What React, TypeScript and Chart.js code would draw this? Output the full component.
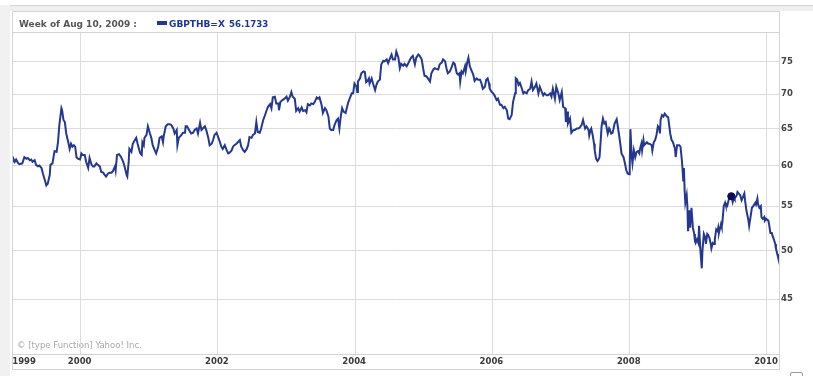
import { useEffect, useRef } from 'react';
import { Chart, registerables } from 'chart.js';

Chart.register(...registerables);

// Week dates (decimal years)
const weekDates: number[] = [
  1999.00, 1999.02, 1999.04, 1999.06, 1999.09, 1999.11, 1999.15, 1999.18, 1999.21, 1999.23,
  1999.26, 1999.28, 1999.30, 1999.33, 1999.35, 1999.38, 1999.40, 1999.43, 1999.45, 1999.48,
  1999.50, 1999.52, 1999.55, 1999.56, 1999.59, 1999.61, 1999.62, 1999.65, 1999.67, 1999.69,
  1999.72, 1999.73, 1999.75, 1999.77, 1999.79, 1999.82, 1999.84, 1999.86, 1999.88, 1999.90,
  1999.92, 1999.94, 1999.96, 1999.99, 2000.00, 2000.01, 2000.03, 2000.06, 2000.08, 2000.11,
  2000.13, 2000.16, 2000.18, 2000.20, 2000.23, 2000.25, 2000.28, 2000.30, 2000.33, 2000.35,
  2000.37, 2000.40, 2000.42, 2000.45, 2000.47, 2000.50, 2000.51, 2000.53, 2000.56, 2000.59,
  2000.62, 2000.64, 2000.67, 2000.68, 2000.70, 2000.71, 2000.74, 2000.76, 2000.79, 2000.81,
  2000.83, 2000.85, 2000.87, 2000.89, 2000.90, 2000.92, 2000.93, 2000.96, 2000.98, 2001.01,
  2001.03, 2001.05, 2001.08, 2001.10, 2001.13, 2001.15, 2001.18, 2001.20, 2001.21, 2001.24,
  2001.27, 2001.30, 2001.32, 2001.35, 2001.37, 2001.40, 2001.41, 2001.43, 2001.47, 2001.49,
  2001.52, 2001.53, 2001.55, 2001.58, 2001.61, 2001.64, 2001.66, 2001.69, 2001.71, 2001.74,
  2001.76, 2001.78, 2001.81,
  2001.83, 2001.86, 2001.88, 2001.91, 2001.93, 2001.95, 2001.98, 2002.00, 2002.03, 2002.05,
  2002.07, 2002.10, 2002.12, 2002.15, 2002.17, 2002.20, 2002.22, 2002.24, 2002.27, 2002.29,
  2002.32, 2002.34, 2002.37, 2002.39, 2002.42, 2002.44, 2002.46, 2002.49, 2002.51, 2002.54,
  2002.56, 2002.58, 2002.61, 2002.63, 2002.66, 2002.68, 2002.71, 2002.73, 2002.76, 2002.78,
  2002.80, 2002.83, 2002.85, 2002.88, 2002.89, 2002.91, 2002.94, 2002.97, 2003.00, 2003.02,
  2003.05, 2003.07, 2003.09, 2003.12, 2003.14, 2003.17, 2003.19, 2003.22, 2003.24, 2003.27,
  2003.29, 2003.31, 2003.34, 2003.36, 2003.39, 2003.41, 2003.44, 2003.46, 2003.48, 2003.51,
  2003.53, 2003.56, 2003.58, 2003.61, 2003.63, 2003.65, 2003.68, 2003.70, 2003.73, 2003.75,
  2003.77, 2003.79, 2003.81, 2003.83, 2003.86, 2003.87, 2003.90, 2003.92, 2003.95, 2003.97,
  2003.99, 2004.02, 2004.03, 2004.04, 2004.07, 2004.09, 2004.12, 2004.14, 2004.16, 2004.18,
  2004.20, 2004.21, 2004.24, 2004.26, 2004.29, 2004.31, 2004.33, 2004.36, 2004.38, 2004.41,
  2004.43, 2004.46, 2004.48, 2004.50, 2004.53, 2004.55, 2004.58,
  2004.60, 2004.63, 2004.65, 2004.67, 2004.70, 2004.72, 2004.75, 2004.77, 2004.80, 2004.82,
  2004.84, 2004.87, 2004.89, 2004.92, 2004.94, 2004.97, 2004.99, 2005.01, 2005.04, 2005.06,
  2005.09, 2005.11, 2005.14, 2005.16, 2005.18, 2005.21, 2005.23, 2005.26, 2005.28, 2005.31,
  2005.33, 2005.35, 2005.38, 2005.40, 2005.43, 2005.45, 2005.48, 2005.50, 2005.52, 2005.53,
  2005.55, 2005.57, 2005.60, 2005.61, 2005.63, 2005.65, 2005.67, 2005.70, 2005.72, 2005.74,
  2005.77, 2005.79, 2005.82, 2005.84, 2005.86, 2005.89, 2005.91, 2005.93, 2005.95, 2005.96,
  2005.99, 2006.01, 2006.03, 2006.06, 2006.08, 2006.11, 2006.13, 2006.16, 2006.18, 2006.21,
  2006.23, 2006.25, 2006.28, 2006.30, 2006.33, 2006.34, 2006.36, 2006.38, 2006.40, 2006.42,
  2006.45, 2006.47, 2006.50, 2006.52, 2006.55, 2006.57, 2006.59, 2006.62, 2006.64, 2006.67,
  2006.69, 2006.72, 2006.74, 2006.76, 2006.79, 2006.81, 2006.84, 2006.86, 2006.88, 2006.91,
  2006.93, 2006.96, 2006.98, 2007.01, 2007.03, 2007.06, 2007.07, 2007.09, 2007.10, 2007.13,
  2007.15, 2007.18, 2007.20, 2007.23, 2007.25, 2007.27, 2007.30, 2007.32, 2007.35, 2007.37,
  2007.40,
  2007.41, 2007.43, 2007.44, 2007.46, 2007.48, 2007.49, 2007.51, 2007.53, 2007.54, 2007.56,
  2007.58, 2007.59, 2007.61, 2007.63, 2007.65, 2007.66, 2007.68, 2007.70, 2007.71, 2007.73,
  2007.75, 2007.76, 2007.78, 2007.81, 2007.82, 2007.84, 2007.86, 2007.88, 2007.91, 2007.93,
  2007.95, 2007.97, 2007.99, 2008.00, 2008.01, 2008.03, 2008.04, 2008.06, 2008.08, 2008.10,
  2008.12, 2008.14, 2008.15, 2008.17, 2008.18, 2008.20, 2008.21, 2008.23, 2008.25, 2008.27,
  2008.29, 2008.32, 2008.33, 2008.35, 2008.37, 2008.39, 2008.41, 2008.43, 2008.44, 2008.45,
  2008.47, 2008.49, 2008.51, 2008.54, 2008.56, 2008.59, 2008.61, 2008.63, 2008.66, 2008.67,
  2008.69, 2008.72, 2008.74, 2008.76, 2008.77, 2008.78, 2008.79, 2008.80, 2008.81, 2008.83,
  2008.84, 2008.85, 2008.87, 2008.88, 2008.90, 2008.92, 2008.94, 2008.95, 2008.96, 2008.98,
  2009.00, 2009.01, 2009.03, 2009.05, 2009.06, 2009.08, 2009.10, 2009.11, 2009.13, 2009.14,
  2009.16, 2009.18, 2009.19, 2009.21, 2009.23, 2009.24, 2009.26, 2009.28, 2009.29, 2009.30,
  2009.33, 2009.34, 2009.35, 2009.37, 2009.39, 2009.40, 2009.42, 2009.44, 2009.45, 2009.47,
  2009.49, 2009.50, 2009.52, 2009.53, 2009.56, 2009.57, 2009.59, 2009.61, 2009.63, 2009.65,
  2009.67, 2009.68, 2009.70, 2009.73, 2009.74, 2009.76, 2009.78, 2009.80, 2009.83, 2009.84,
  2009.86, 2009.87, 2009.89, 2009.91, 2009.92, 2009.94, 2009.96, 2009.97, 2009.99, 2010.00,
  2010.02, 2010.03, 2010.05, 2010.07, 2010.08, 2010.10, 2010.12, 2010.13, 2010.15, 2010.16,
  2010.17,
];

// GBP/THB closing values
const gbpThb: number[] = [
  60.3, 60.9, 60.5, 60.8, 60.3, 60.2, 60.3, 61.1, 60.9, 61.0,
  60.7, 60.8, 60.5, 60.7, 60.1, 59.9, 60.0, 59.7, 59.0, 58.1,
  57.5, 57.7, 58.8, 60.1, 60.3, 61.4, 61.9, 61.8, 63.1, 65.5,
  67.9, 67.6, 66.2, 65.9, 64.3, 63.1, 62.2, 62.9, 62.5, 62.7,
  62.5, 61.1, 60.9, 60.8, 61.1, 61.6, 61.4, 61.4, 60.5, 59.7,
  61.0, 60.1, 59.9, 59.9, 60.3, 60.1, 59.9, 59.2, 59.1, 58.8,
  58.6, 59.0, 59.1, 59.1, 59.3, 59.9, 59.4, 61.4, 61.5, 61.1,
  60.5, 59.9, 58.8, 58.6, 60.5, 62.2, 61.8, 62.9, 63.4, 63.7,
  62.9, 62.2, 61.6, 61.4, 63.1, 62.7, 63.7, 64.1, 65.3, 64.3,
  63.7, 62.7, 62.0, 61.6, 62.5, 63.7, 63.9, 63.1, 63.9, 65.3,
  65.6, 65.6, 65.5, 65.0, 64.3, 64.8, 62.7, 63.7, 64.1, 64.4,
  64.4, 65.3, 65.3, 64.8, 64.3, 64.4, 64.8, 65.0, 64.3, 65.8,
  64.8, 65.0, 65.3,
  64.8, 63.7, 62.7, 62.9, 63.4, 64.1, 64.4, 63.9, 63.1, 62.5,
  62.2, 62.7, 62.2, 61.6, 61.7, 62.0, 62.5, 62.7, 62.9, 63.1,
  63.4, 62.5, 62.0, 61.8, 62.2, 62.7, 63.8, 63.7, 64.1, 64.3,
  65.9, 64.5, 64.4, 65.0, 66.2, 66.7, 67.6, 68.1, 68.5, 67.9,
  69.5, 69.6, 68.6, 68.6, 67.6, 68.8, 69.1, 69.3, 69.6, 69.0,
  69.6, 70.3, 69.6, 69.3, 67.5, 67.9, 67.4, 68.0, 67.5, 67.6,
  67.3, 68.5, 68.3, 68.6, 68.5, 68.8, 69.5, 69.3, 69.5, 68.4,
  67.2, 67.9, 67.6, 66.7, 65.0, 64.8, 64.8, 65.5, 66.2, 66.4,
  65.0, 66.7, 67.9, 67.4, 67.2, 67.6, 68.8, 69.3, 70.1, 70.1,
  71.6, 71.1, 70.3, 71.9, 72.4, 73.2, 73.5, 73.4, 71.8, 72.0,
  72.4, 71.6, 72.4, 71.6, 70.6, 71.4, 71.9, 72.2, 74.6, 75.2,
  75.1, 75.4, 74.8, 75.4, 76.2, 75.4, 75.4,
  76.7, 75.7, 74.0, 74.7, 74.4, 74.7, 74.3, 74.7, 75.4, 75.8,
  76.0, 74.6, 75.7, 76.2, 76.0, 75.4, 74.0, 72.8, 72.7, 72.4,
  71.9, 73.2, 73.8, 74.0, 73.9, 73.8, 74.6, 74.9, 75.4, 75.1,
  74.0, 73.2, 73.5, 74.0, 74.9, 74.7, 73.2, 73.0, 73.2, 71.9,
  73.5, 73.2, 74.3, 73.5, 74.8, 75.7, 74.3, 73.5, 73.0, 72.0,
  72.4, 72.2, 72.2, 71.6, 70.8, 71.1, 72.2, 72.4, 71.6, 70.8,
  70.3, 70.1, 69.8, 69.1, 69.3, 68.4, 68.4, 67.9, 68.1, 67.6,
  66.4, 66.3, 66.9, 68.8, 70.1, 72.4, 72.2, 71.4, 71.7, 71.1,
  70.1, 70.3, 70.1, 70.6, 70.8, 71.9, 70.6, 71.1, 71.6, 70.1,
  71.1, 70.3, 69.8, 70.1, 69.8, 69.8, 70.1, 69.6, 70.8, 69.3,
  71.1, 70.1, 69.1, 70.3, 68.1, 67.9, 65.9, 67.4, 65.7, 66.4,
  64.4, 64.8, 64.8, 65.0, 65.0, 65.1, 65.5, 66.2, 65.0, 65.3,
  64.8,
  64.0, 64.8, 65.0, 64.1, 62.9, 62.0, 60.9, 60.6, 60.7, 61.1,
  63.7, 65.3, 66.4, 65.7, 65.9, 65.3, 64.3, 65.0, 64.8, 64.3,
  64.4, 64.8, 65.7, 66.3, 65.7, 64.4, 63.1, 61.6, 61.1, 60.3,
  59.4, 59.0, 58.9, 59.9, 64.9, 61.1, 60.3, 62.0, 61.1, 61.8,
  61.9, 61.6, 62.2, 62.9, 62.0, 63.4, 62.7, 62.9, 63.1, 62.9,
  62.9, 62.7, 62.0, 63.1, 63.4, 64.1, 65.3, 65.0, 64.3, 66.2,
  66.9, 66.7, 67.1, 66.7, 66.6, 64.3, 63.4, 63.1, 62.2, 61.1,
  62.7, 62.7, 62.5, 60.7, 59.5, 58.1, 59.7, 56.9, 55.4, 56.3,
  55.0, 52.1, 54.5, 52.5, 54.8, 52.5, 51.8, 51.0, 50.8, 51.2,
  50.8, 52.7, 50.0, 48.1, 50.0, 51.8, 51.4, 50.7, 51.8, 51.7,
  51.4, 50.7, 50.2, 50.8, 50.7, 51.2, 52.3, 52.1, 52.5, 51.9,
  52.9, 52.6, 53.1, 55.0, 55.4, 55.1, 55.0, 55.7, 55.9, 56.1,
  55.9, 55.5, 56.1, 55.9, 56.3, 56.7, 56.5, 56.3, 55.7, 56.1,
  56.5, 55.7, 54.5, 53.3, 52.7, 53.7, 54.8, 55.0, 55.4, 55.2,
  55.9, 55.2, 54.8, 55.0, 53.7, 53.5, 53.7, 53.3, 53.5, 53.5,
  53.3, 52.9, 51.9, 51.9, 51.6, 51.2, 50.7, 50.2, 49.6, 49.3,
  49.2,
];

const yTickValues: number[] = [45, 50, 55, 60, 65, 70, 75];
const xGridYears: number[] = [2000, 2002, 2004, 2006, 2008, 2010];
const firstYearLabel = '1999';
const firstYearLabelAt = 1999.19;
const axisStart = 1999.0;
const axisEnd = 2010.175;
const yMin = 40;
const yMax = 80;

const highlightDate = 2009.48;
const highlightValue = 56.1733;
const headerText = 'Week of Aug 10, 2009 :';
const seriesName = 'GBPTHB=X';
const seriesValueText = '56.1733';
const creditText = '\u00A9 [type Function] Yahoo! Inc.';

const LINE_COLOR = '#24388f';
const GRID_COLOR = '#dcdcdc';
const FONT = '"DejaVu Sans", Verdana, sans-serif';

const framePlugin = {
  id: 'yahooFrame',
  beforeDraw(chart: any) {
    const { ctx, chartArea: a, width, height } = chart;
    ctx.save();
    ctx.fillStyle = '#ffffff';
    ctx.fillRect(0, 0, width, height);
    ctx.fillStyle = '#efefef';
    ctx.fillRect(0, 5, width, 6);
    ctx.fillStyle = '#d2d2d2';
    ctx.fillRect(0, 5, width, 1);
    ctx.fillStyle = '#f1f1f1';
    ctx.fillRect(0, 5, 10, height - 5);
    // credit text
    ctx.font = '8.5px ' + FONT;
    ctx.fillStyle = '#a8a8a8';
    ctx.textBaseline = 'alphabetic';
    ctx.textAlign = 'left';
    ctx.fillText(creditText, a.left + 5, a.bottom - 6.5);
    ctx.restore();
  },
  afterDraw(chart: any) {
    const { ctx, chartArea: a } = chart;
    ctx.save();
    ctx.strokeStyle = '#d4d4d4';
    ctx.lineWidth = 1;
    const L = a.left + 0.5;
    const R = a.right + 0.5;
    const top = 11.5;
    const bot = a.bottom + 15.5;
    ctx.beginPath();
    ctx.moveTo(L, top); ctx.lineTo(R, top);
    ctx.moveTo(L, a.top + 0.5); ctx.lineTo(R, a.top + 0.5);
    ctx.moveTo(L, a.bottom + 0.5); ctx.lineTo(R, a.bottom + 0.5);
    ctx.moveTo(L, bot); ctx.lineTo(R, bot);
    ctx.moveTo(L, top); ctx.lineTo(L, bot);
    ctx.moveTo(R, top); ctx.lineTo(R, bot);
    ctx.stroke();
    // tiny control at bottom right
    ctx.strokeStyle = '#9a9a9a';
    ctx.beginPath();
    ctx.moveTo(790.5, 380); ctx.lineTo(790.5, 374);
    ctx.quadraticCurveTo(790.5, 372.5, 792, 372.5);
    ctx.lineTo(801, 372.5);
    ctx.quadraticCurveTo(802.5, 372.5, 802.5, 374);
    ctx.lineTo(802.5, 380);
    ctx.stroke();
    // header
    ctx.textBaseline = 'alphabetic';
    ctx.textAlign = 'left';
    ctx.font = 'bold 9px ' + FONT;
    ctx.fillStyle = '#555555';
    ctx.fillText(headerText, 19, 26.5);
    ctx.fillStyle = LINE_COLOR;
    ctx.fillRect(157, 21, 10, 4);
    ctx.fillStyle = '#1f368f';
    ctx.fillText(seriesName, 169, 26.5);
    ctx.font = 'bold 8.6px ' + FONT;
    ctx.fillText(seriesValueText, 229, 26.5);
    ctx.restore();
  },
};

export default function App() {
  const canvasRef = useRef<HTMLCanvasElement | null>(null);

  useEffect(() => {
    const canvas = canvasRef.current;
    if (!canvas) return;
    const points = weekDates.map((d, i) => ({ x: d, y: gbpThb[i] }));
    const chart = new Chart(canvas, {
      type: 'line',
      data: {
        datasets: [
          {
            label: seriesName,
            data: points,
            borderColor: LINE_COLOR,
            borderWidth: 2,
            pointRadius: 0,
            tension: 0,
            fill: false,
            order: 2,
          },
          {
            label: 'highlight',
            data: [{ x: highlightDate, y: highlightValue }],
            borderColor: '#0b0b55',
            backgroundColor: '#0b0b55',
            pointRadius: 3.6,
            pointBorderWidth: 1,
            showLine: false,
            order: 1,
          },
        ],
      },
      plugins: [framePlugin],
      options: {
        responsive: false,
        animation: false,
        devicePixelRatio: 1,
        layout: { padding: { left: 12, top: 32, right: 0, bottom: 7 } },
        plugins: {
          legend: { display: false },
          tooltip: { enabled: false },
        },
        scales: {
          x: {
            type: 'linear',
            min: axisStart,
            max: axisEnd,
            position: 'bottom',
            border: { display: false },
            afterBuildTicks: (scale: any) => {
              scale.ticks = [{ value: firstYearLabelAt }, ...xGridYears.map((v) => ({ value: v }))];
            },
            afterFit: (scale: any) => {
              scale.height = 15;
            },
            grid: {
              drawTicks: false,
              lineWidth: 1,
              color: (c: any) => (c.tick && c.tick.value === firstYearLabelAt ? 'rgba(0,0,0,0)' : GRID_COLOR),
            },
            ticks: {
              autoSkip: false,
              maxRotation: 0,
              minRotation: 0,
              padding: 3,
              labelOffset: -1,
              color: '#3a3a3a',
              font: { family: FONT, size: 8.5, weight: 'bold' },
              callback: (v: any) => (v === firstYearLabelAt ? firstYearLabel : String(v)),
            },
          },
          y: {
            type: 'logarithmic',
            min: yMin,
            max: yMax,
            position: 'right',
            border: { display: false },
            afterBuildTicks: (scale: any) => {
              scale.ticks = yTickValues.map((v) => ({ value: v }));
            },
            afterFit: (scale: any) => {
              scale.width = 34;
            },
            grid: { drawTicks: false, color: GRID_COLOR, lineWidth: 1 },
            ticks: {
              padding: 2,
              color: '#444444',
              font: { family: FONT, size: 8.5, weight: 'bold' },
              callback: (v: any) => String(v),
            },
          },
        },
      },
    } as any);
    return () => chart.destroy();
  }, []);

  return (
    <div style={{ position: 'fixed', left: 0, top: 0, width: 813, height: 376, background: '#fff' }}>
      <canvas ref={canvasRef} width={813} height={376} style={{ display: 'block' }} />
    </div>
  );
}
